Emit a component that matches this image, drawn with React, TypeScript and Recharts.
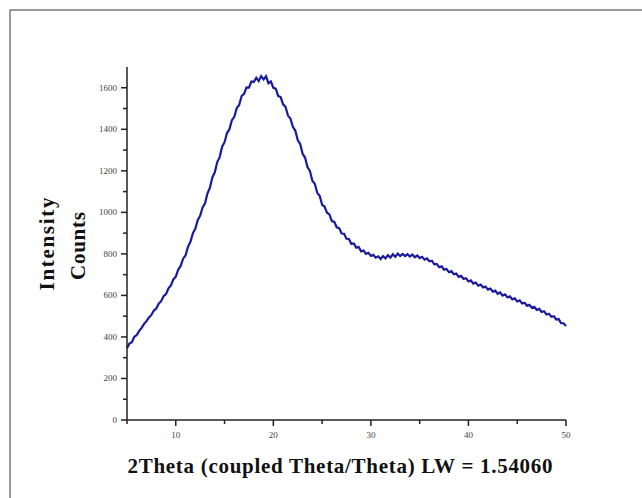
// XRD scan: intensity counts vs 2Theta, drawn as a single noisy trace
import { LineChart, Line, XAxis, YAxis } from 'recharts'

// scan settings (degrees 2Theta)
const scanStart = 5
const scanStep = 0.25

// counts, split by region of the pattern
const riseCounts = [
  345, 368, 375, 401, 409, 429, 444, 463, 476, 494, 506, 527,
  537, 560, 572, 596, 606, 634, 648, 677, 690, 724, 742, 777,
  792, 834, 858, 899, 921, 962, 984, 1024, 1044, 1092, 1119, 1168,
  1193, 1242, 1266, 1316, 1338, 1382, 1400, 1444, 1460, 1503, 1517, 1560,
  1571, 1602, 1601, 1630,
]
const peakCounts = [
  1628, 1648, 1632, 1656, 1640, 1655, 1622, 1630, 1600, 1596, 1560, 1555,
  1520, 1508, 1466, 1452, 1412, 1394, 1348, 1330, 1282, 1264, 1218, 1200,
  1152, 1138, 1094, 1080,
]
const shoulderCounts = [
  1036, 1028, 998, 990, 958, 954, 928, 924, 898, 897, 873, 872,
  848, 850, 830, 833, 812, 816, 800, 805, 790, 795, 782, 788,
  775, 789, 778, 794, 782, 798, 786, 801, 790, 800, 789, 798,
  787, 797, 784, 792, 780, 786, 772, 778, 764, 767, 750, 752,
  736, 740, 724, 727,
]
const tailCounts = [
  712, 717, 702, 705, 689, 694, 679, 683, 667, 672, 657, 662,
  647, 652, 638, 643, 628, 633, 618, 623, 608, 614, 599, 605,
  590, 595, 581, 586, 571, 576, 561, 565, 550, 555, 541, 545,
  530, 535, 520, 524, 508, 512, 497, 500, 484, 486, 466, 466,
  452,
]

const xTicks = [5, 10, 15, 20, 25, 30, 35, 40, 45, 50]
const xLabelled = [10, 20, 30, 40, 50]
const yTicks = [
  0, 100, 200, 300, 400, 500, 600, 700, 800, 900, 1000, 1100, 1200, 1300, 1400, 1500, 1600,
]

const counts = [...riseCounts, ...peakCounts, ...shoulderCounts, ...tailCounts]
const scan = counts.map((c, i) => ({ angle: scanStart + i * scanStep, counts: c }))

const axisColor = '#222'
const serif = '"Liberation Serif", serif'

const XTick = (props: any) => {
  const { x, y, payload } = props
  const major = xLabelled.includes(payload.value)
  return (
    <g>
      <line x1={x} x2={x} y1={y} y2={y + (major ? 6 : 4)} stroke={axisColor} strokeWidth={1.5} />
      {major && (
        <text x={x} y={y + 18} textAnchor="middle" fontSize={9} fill="#444" fontFamily={serif}>
          {payload.value}
        </text>
      )}
    </g>
  )
}

const YTick = (props: any) => {
  const { x, y, payload } = props
  const major = payload.value % 200 === 0
  return (
    <g>
      <line x1={x} x2={x - (major ? 6 : 4)} y1={y} y2={y} stroke={axisColor} strokeWidth={1.5} />
      {major && (
        <text x={x - 10} y={y + 3} textAnchor="end" fontSize={9} fill="#444" fontFamily={serif}>
          {payload.value}
        </text>
      )}
    </g>
  )
}

export default function App() {
  return (
    <div style={{ position: 'relative', width: 642, height: 498, background: '#fff', overflow: 'hidden' }}>
      <style>{'body{margin:0}'}</style>
      <LineChart
        width={642}
        height={498}
        data={scan}
        margin={{ top: 67, right: 76, left: 87, bottom: 48 }}
      >
        <XAxis
          dataKey="angle"
          type="number"
          domain={[5, 50]}
          ticks={xTicks}
          interval={0}
          height={30}
          tickSize={0}
          tickMargin={0}
          tickLine={false}
          tick={<XTick />}
          axisLine={{ stroke: axisColor, strokeWidth: 1.5 }}
        />
        <YAxis
          type="number"
          domain={[0, 1700]}
          ticks={yTicks}
          interval={0}
          width={40}
          tickSize={0}
          tickMargin={0}
          tickLine={false}
          tick={<YTick />}
          axisLine={{ stroke: axisColor, strokeWidth: 1.5 }}
        />
        <Line
          dataKey="counts"
          stroke="#1a1a9e"
          strokeWidth={2.2}
          dot={false}
          isAnimationActive={false}
        />
      </LineChart>
      {/* frame edges and axis titles */}
      <svg
        width={642}
        height={498}
        style={{ position: 'absolute', left: 0, top: 0, pointerEvents: 'none' }}
      >
        <line x1={10} y1={10} x2={642} y2={10} stroke="#333" strokeWidth={1} />
        <line x1={10} y1={10} x2={10} y2={498} stroke="#333" strokeWidth={1} />
        <text
          x={340}
          y={473}
          textAnchor="middle"
          fontSize={21}
          fontWeight="bold"
          fontFamily={serif}
          fill="#111"
          textLength={425}
        >
          2Theta (coupled Theta/Theta) LW = 1.54060
        </text>
        <text
          transform="translate(54,244) rotate(-90)"
          textAnchor="middle"
          fontSize={21}
          fontWeight="bold"
          fontFamily={serif}
          fill="#111"
          textLength={93}
        >
          Intensity
        </text>
        <text
          transform="translate(85,246) rotate(-90)"
          textAnchor="middle"
          fontSize={21}
          fontWeight="bold"
          fontFamily={serif}
          fill="#111"
          textLength={68}
        >
          Counts
        </text>
      </svg>
    </div>
  )
}
